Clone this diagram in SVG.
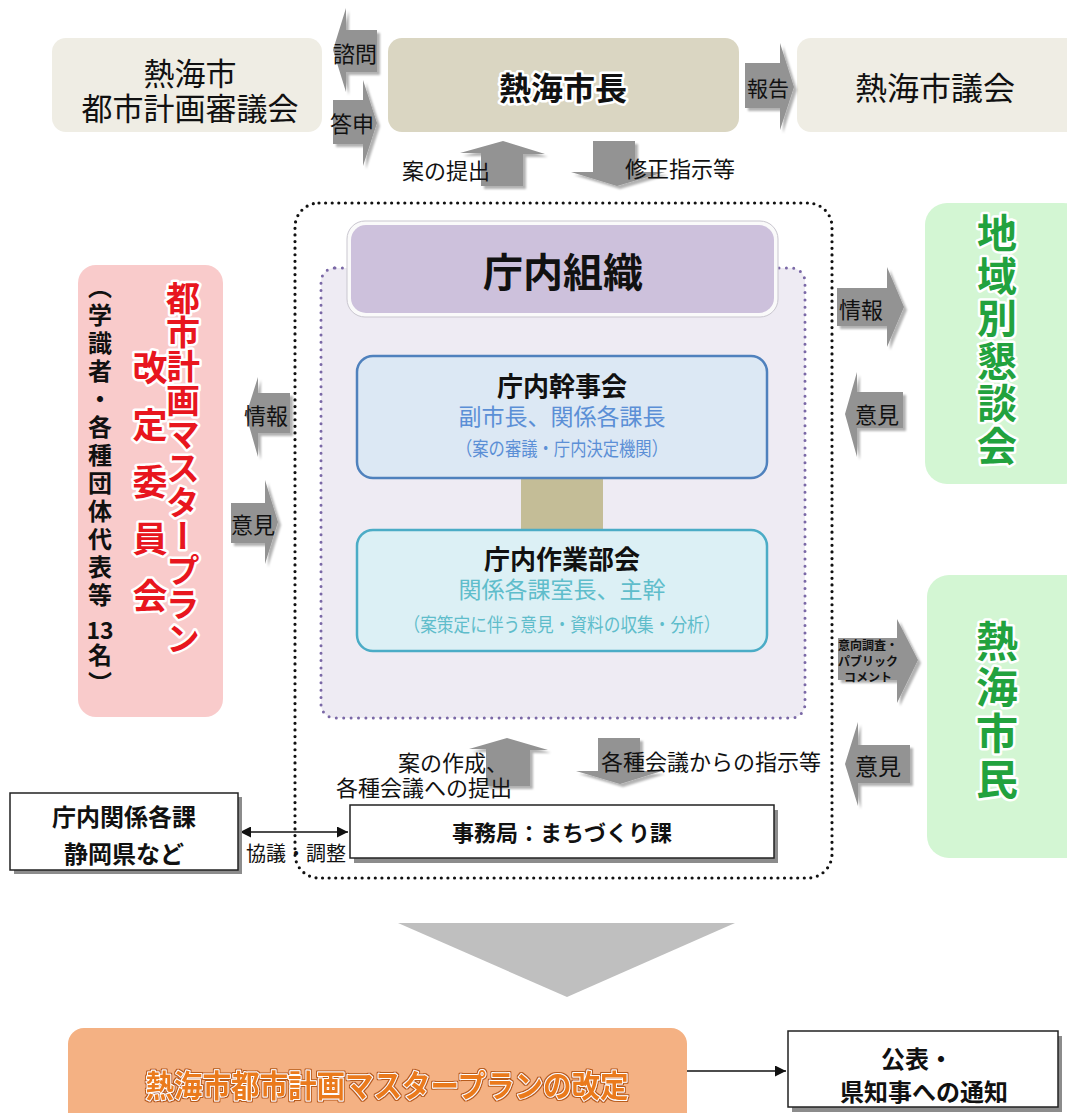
<svg xmlns="http://www.w3.org/2000/svg" width="1067" height="1113" viewBox="0 0 1067 1113">
<defs>
<style>
text{font-family:"Noto Sans CJK JP","Noto Sans CJK SC",sans-serif;fill:#111}
.c{text-anchor:middle;dominant-baseline:central}
.b{font-weight:700}
.lbl{font-size:22px}
.halo{stroke:#fff;stroke-width:5px;paint-order:stroke;stroke-linejoin:round}
.v{writing-mode:vertical-rl}
.arr{fill:#939393}
.wbox{fill:#fff;stroke:#222;stroke-width:1.5}
.wsh{fill:#8c8c8c}
.red{fill:#e8161e}
.grn{fill:#22a23e}
.blue{fill:#5b8fd6}
.teal{fill:#5fbdcb}
.org{fill:#ea7a1e;stroke:#fff;stroke-width:2px;paint-order:stroke;stroke-linejoin:round}
</style>
<filter id="sh" x="-20%" y="-20%" width="140%" height="140%">
<feDropShadow dx="3" dy="3" stdDeviation="1.2" flood-color="#000" flood-opacity="0.3"/>
</filter>
<filter id="outl" x="-5%" y="-20%" width="110%" height="140%">
<feMorphology in="SourceAlpha" operator="dilate" radius="1" result="d"/>
<feFlood flood-color="#b85c1c"/>
<feComposite in2="d" operator="in" result="o"/>
<feMerge><feMergeNode in="o"/><feMergeNode in="SourceGraphic"/></feMerge>
</filter>
<marker id="ah" viewBox="0 0 10 10" refX="10" refY="5" markerWidth="11" markerHeight="11" markerUnits="userSpaceOnUse" orient="auto-start-reverse">
<path d="M0,0 L10,5 L0,10 Z" fill="#111"/>
</marker>
</defs>
<rect width="1067" height="1113" fill="#fff"/>

<g id="toshi-keikaku-shingikai">
<rect x="52" y="38" width="270" height="94" rx="14" fill="#efede4"/>
<text class="c" x="190" y="71" font-size="31">熱海市</text>
<text class="c" x="190" y="106" font-size="31">都市計画審議会</text>
</g>
<g id="atami-shicho">
<rect x="388" y="38" width="351" height="94" rx="14" fill="#dad6c2"/>
<text class="c b halo" x="563" y="86" font-size="32">熱海市長</text>
</g>
<g id="atami-shigikai">
<rect x="797" y="38" width="290" height="94" rx="14" fill="#efede4"/>
<text class="c" x="935" y="86" font-size="32">熱海市議会</text>
</g>

<g id="chonai-frame">
<rect x="295" y="203" width="537" height="675" rx="24" fill="none" stroke="#111" stroke-width="3.2" stroke-dasharray="0 6.6" stroke-linecap="round"/>
<rect x="321" y="268" width="484" height="450" rx="14" fill="#eeebf3" stroke="#7a68a6" stroke-width="3" stroke-dasharray="0 7.4" stroke-linecap="round"/>
</g>
<g id="chonai-soshiki">
<rect x="347" y="221" width="431" height="96" rx="18" fill="#fafafa" stroke="#c9c6cf" stroke-width="1"/>
<rect x="351" y="225" width="423" height="88" rx="15" fill="#cdc1dc"/>
<text class="c b" x="563" y="270" font-size="40">庁内組織</text>
</g>

<g id="connectors">
<rect x="521" y="478" width="82" height="52" fill="#c4bd97"/>
<g class="arr" filter="url(#sh)">
<path d="M377,30 H346 V8 L333,50 L346,92 V72 H377 Z"/>
<path d="M333,100 H363 V80 L377,123 L363,166 V144 H333 Z"/>
<path d="M745,63 H780 V43 L794,87 L780,130 V108 H745 Z"/>
<path d="M481,186 V153 H460 L503,141 L545,154 H523 V186 Z"/>
<path d="M593,141 H635 V172 H665 L617,186 L571,172 H593 Z"/>
<path d="M290,393 H258 V377 L246,415 L258,457 V433 H290 Z"/>
<path d="M231,503 H265 V480 L278,522 L265,564 V543 H231 Z"/>
<path d="M837,288 H887 V267 L904,307 L887,347 V326 H837 Z"/>
<path d="M903,392 H857 V372 L845,414 L857,457 V428 H903 Z"/>
<path d="M838,638 H897 V619 L918,660 L897,703 V680 H838 Z"/>
<path d="M910,745 H858 V722 L845,764 L858,806 V783 H910 Z"/>
<path d="M486,786 V749 H469 L507,738 L548,750 H530 V786 Z"/>
<path d="M598,738 H640 V771 H662 L620,784 L576,771 H598 Z"/>
</g>
<polygon points="398,923 735,923 567,997" fill="#bfbfbf"/>
<line x1="240" y1="832" x2="348" y2="832" stroke="#111" stroke-width="1.6" marker-start="url(#ah)" marker-end="url(#ah)"/>
<line x1="687" y1="1071" x2="786" y2="1071" stroke="#111" stroke-width="1.6" marker-end="url(#ah)"/>
<text class="c lbl" x="355" y="52">諮問</text>
<text class="c lbl" x="352" y="122">答申</text>
<text class="c" x="768" y="87" font-size="21">報告</text>
<text class="c lbl" x="446" y="169">案の提出</text>
<text class="c lbl" x="680" y="167">修正指示等</text>
<text class="c lbl" x="266" y="414">情報</text>
<text class="c lbl" x="253" y="523">意見</text>
<text class="c lbl" x="861" y="308">情報</text>
<text class="c lbl" x="877" y="413">意見</text>
<text class="c b" x="868" y="644" font-size="12">意向調査・</text>
<text class="c b" x="868" y="660" font-size="12">パブリック</text>
<text class="c b" x="868" y="676" font-size="12">コメント</text>
<text class="c" x="878" y="765" font-size="23">意見</text>
<text class="lbl" x="508" y="761" text-anchor="end" dominant-baseline="central">案の作成、</text>
<text class="lbl" x="512" y="786" text-anchor="end" dominant-baseline="central">各種会議への提出</text>
<text class="lbl" x="601" y="760" dominant-baseline="central">各種会議からの指示等</text>
<text class="c" x="296" y="852" font-size="20">協議・調整</text>
</g>

<g id="chonai-kanjikai">
<rect x="357" y="356" width="410" height="122" rx="16" fill="#dce8f4" stroke="#4f81bd" stroke-width="2.5"/>
<text class="c b" x="562" y="384" font-size="26">庁内幹事会</text>
<text class="c blue" x="562" y="415" font-size="23">副市長、関係各課長</text>
<text class="c blue" x="562" y="447" font-size="19" textLength="212" lengthAdjust="spacingAndGlyphs">（案の審議・庁内決定機関）</text>
</g>
<g id="chonai-sagyobukai">
<rect x="357" y="530" width="410" height="121" rx="16" fill="#dcf0f5" stroke="#4bacc6" stroke-width="2.5"/>
<text class="c b" x="562" y="557" font-size="26">庁内作業部会</text>
<text class="c teal" x="562" y="588" font-size="23">関係各課室長、主幹</text>
<text class="c teal" x="562" y="623" font-size="19" textLength="317" lengthAdjust="spacingAndGlyphs">（案策定に伴う意見・資料の収集・分析）</text>
</g>
<g id="jimukyoku">
<rect class="wsh" x="354" y="810" width="424" height="53"/>
<rect class="wbox" x="350" y="805" width="424" height="53"/>
<text class="c b" x="562" y="831" font-size="22">事務局：まちづくり課</text>
</g>
<g id="chonai-kankei">
<rect class="wsh" x="14" y="797" width="228" height="77"/>
<rect class="wbox" x="10" y="793" width="228" height="77"/>
<text class="c b" x="124" y="815" font-size="24">庁内関係各課</text>
<text class="c b" x="124" y="852" font-size="24">静岡県など</text>
</g>

<g id="kaitei-iinkai">
<rect x="78" y="265" width="145" height="452" rx="18" fill="#f9cbcb"/>
<text class="v b" x="100" y="275" font-size="24" letter-spacing="4">（学識者・各種団体代表等</text>
<text class="c b" x="100" y="629" font-size="23">13</text>
<text class="v b" x="100" y="643" font-size="24" letter-spacing="4">名）</text>
<text class="v b red halo" x="183" y="281" font-size="34">都市計画マスタープラン</text>
<text class="v b red halo" x="150" y="350" font-size="35" letter-spacing="22">改定委員会</text>
</g>

<g id="chiikibetsu-kondankai">
<rect x="925" y="203" width="160" height="281" rx="22" fill="#d3f6d3"/>
<text class="v b grn halo" x="997" y="213" font-size="40" letter-spacing="2.5">地域別懇談会</text>
</g>
<g id="atami-shimin">
<rect x="927" y="575" width="160" height="283" rx="22" fill="#d3f6d3"/>
<text class="v b grn halo" x="997" y="620" font-size="42" letter-spacing="4">熱海市民</text>
</g>

<g id="kaitei">
<rect x="68" y="1028" width="619" height="110" rx="16" fill="#f4b183"/>
<text class="c b org" x="387" y="1083" font-size="31" textLength="483" lengthAdjust="spacingAndGlyphs" filter="url(#outl)">熱海市都市計画マスタープランの改定</text>
</g>
<g id="kohyo">
<rect class="wsh" x="792" y="1036" width="270" height="76"/>
<rect class="wbox" x="788" y="1031" width="270" height="76"/>
<text class="c b" x="917" y="1057" font-size="24">公表・</text>
<text class="c b" x="924" y="1090" font-size="24">県知事への通知</text>
</g>
</svg>
